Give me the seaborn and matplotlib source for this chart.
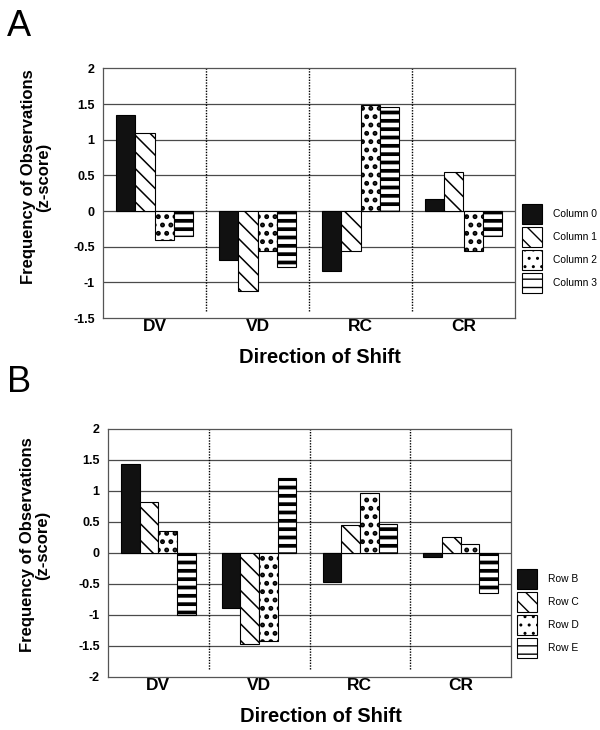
import matplotlib
matplotlib.use("Agg")
import matplotlib.pyplot as plt
import seaborn as sns
import pandas as pd

# Data
directions = ["DV", "VD", "RC", "CR"]

column_labels = ["Column 0", "Column 1", "Column 2", "Column 3"]
column_0 = [1.35, -0.68, -0.84, 0.17]
column_1 = [1.10, -1.12, -0.56, 0.55]
column_2 = [-0.40, -0.56, 1.49, -0.56]
column_3 = [-0.35, -0.79, 1.46, -0.35]

row_labels = ["Row B", "Row C", "Row D", "Row E"]
row_b = [1.43, -0.89, -0.47, -0.07]
row_c = [0.81, -1.47, 0.45, 0.25]
row_d = [0.34, -1.42, 0.96, 0.14]
row_e = [-1.00, 1.20, 0.46, -0.65]

yticks_a = [-1.5, -1, -0.5, 0, 0.5, 1, 1.5, 2]
yticks_b = [-2, -1.5, -1, -0.5, 0, 0.5, 1, 1.5, 2]

# bar styles: first series solid black, the others hatched on white
fills = ["#111111", "white", "white", "white"]
hatches = [None, "\\\\", "..", "--"]
hatch_widths = [1.0, 1.1, 2.3, 2.7]

sns.set_theme(style="white")
plt.rcParams["font.family"] = ["Liberation Sans", "DejaVu Sans"]
plt.rcParams["text.color"] = "black"
plt.rcParams["axes.labelcolor"] = "black"
plt.rcParams["xtick.color"] = "black"
plt.rcParams["ytick.color"] = "black"


def long_form(labels, series):
    rows = []
    for lab, vals in zip(labels, series):
        for d, v in zip(directions, vals):
            rows.append({"direction": d, "series": lab, "value": v})
    return pd.DataFrame(rows)


def draw_panel(ax, labels, series, yticks, legend_anchor, xlabel_y):
    df = long_form(labels, series)
    sns.barplot(data=df, x="direction", y="value", hue="series",
                hue_order=labels, order=directions,
                palette=dict(zip(labels, fills)), saturation=1,
                width=0.74, gap=0, edgecolor="black", linewidth=0.8,
                errorbar=None, legend=False, ax=ax, zorder=3)

    for cont, h, hw in zip(ax.containers, hatches, hatch_widths):
        for bar in cont:
            if h:
                bar.set_hatch(h)
            if hasattr(bar, "set_hatch_linewidth"):
                bar.set_hatch_linewidth(hw)

    ax.set_xlim(-0.5, len(directions) - 0.5)
    ax.set_ylim(yticks[0], yticks[-1])
    ax.set_yticks(yticks)
    ax.set_yticklabels([f"{t:g}" for t in yticks], fontsize=9, fontweight="bold")
    ax.set_xticks(range(len(directions)))
    ax.set_xticklabels(directions, fontsize=12.5, fontweight="bold")
    ax.tick_params(axis="both", length=0, colors="black")
    ax.tick_params(axis="y", pad=6)
    ax.tick_params(axis="x", pad=1)

    for t in yticks[1:-1]:
        ax.axhline(t, color="#4a4a4a", lw=0.9, zorder=1)
    for i in range(len(directions) - 1):
        ax.axvline(i + 0.5, ymin=0.03, ymax=1.0, color="black", lw=1.0,
                   ls=(0, (1, 1)), zorder=1)

    for s in ax.spines.values():
        s.set_color("#555555")
        s.set_linewidth(0.9)

    ax.set_xlabel("Direction of Shift", fontsize=14.5, fontweight="bold")
    ax.xaxis.set_label_coords(0.527, xlabel_y)
    ax.xaxis.label.set_verticalalignment("baseline")
    ax.set_ylabel("")

    ax.legend(ax.containers, labels, loc="center left",
              bbox_to_anchor=legend_anchor, frameon=False,
              borderpad=0, borderaxespad=0, fontsize=7.4,
              handlelength=1.94, handleheight=2.6, labelspacing=0.31,
              handletextpad=1.07)


fig = plt.figure(figsize=(6, 7.3), dpi=100)

# panel A: x 103..515 px, y 68..318 px
ax_a = fig.add_axes([103 / 600, 1 - 318 / 730, 412 / 600, 249.6 / 730])
draw_panel(ax_a, column_labels, [column_0, column_1, column_2, column_3],
           yticks_a, (1.017, 0.278), -45 / 249.6)

# panel B: x 108..511 px, y 428.5..676.5 px
ax_b = fig.add_axes([108 / 600, 1 - 676.5 / 730, 403 / 600, 248 / 730])
draw_panel(ax_b, row_labels, [row_b, row_c, row_d, row_e],
           yticks_b, (1.015, 0.254), -45 / 248)

ylab = "Frequency of Observations\n(z-score)"
fig.text(36 / 600, 1 - 177 / 730, ylab, rotation=90, ha="center", va="center",
         fontsize=12, fontweight="bold", linespacing=0.95)
fig.text(35 / 600, 1 - 545 / 730, ylab, rotation=90, ha="center", va="center",
         fontsize=12, fontweight="bold", linespacing=0.95)

fig.text(7 / 600, 1 - 36 / 730, "A", fontsize=26, va="baseline", ha="left")
fig.text(7 / 600, 1 - 392 / 730, "B", fontsize=26, va="baseline", ha="left")

fig.savefig("out.png", dpi=100)
